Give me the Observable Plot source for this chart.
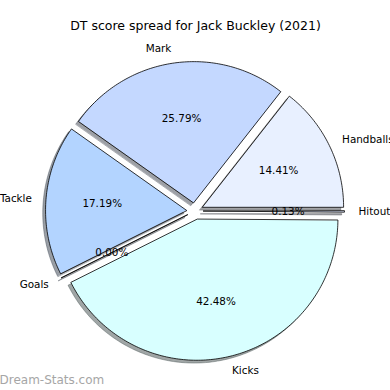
<!DOCTYPE html>
<html>
<head>
<meta charset="utf-8">
<script src="https://cdn.jsdelivr.net/npm/d3@7"></script>
<script src="https://cdn.jsdelivr.net/npm/@observablehq/plot@0.6"></script>
<style>
  html, body { margin: 0; padding: 0; background: white; }
</style>
</head>
<body>
<div id="chart"></div>
<script>
// ---- data ----
const title = "DT score spread for Jack Buckley (2021)";
const watermark = "Dream-Stats.com";
const labels = ["Handballs", "Mark", "Tackle", "Goals", "Kicks", "Hitout"];
const values = [14.41, 25.79, 17.19, 0.00, 42.48, 0.13];
const colors = ["#e8f0ff", "#c4d8ff", "#b3d4ff", "#c8e4ff", "#d8ffff", "#e0e8ff"];

// ---- layout constants ----
const W = 390, H = 390;
const cx = 194.5, cy = 210.5, R = 141;   // pie centre and radius in pixels
const explode = 0.06, labelDistance = 1.1, pctDistance = 0.6, shadowOffset = 0.02;

const total = d3.sum(values);
let cum = 0;
const wedges = labels.map((label, i) => {
  const a0 = cum / total * 360;
  cum += values[i];
  const a1 = cum / total * 360;
  const mid = (a0 + a1) / 2 * Math.PI / 180;
  return {label, value: values[i], color: colors[i], a0, a1, mid,
          ox: explode * Math.cos(mid), oy: explode * Math.sin(mid)};
});

const points = [];
for (const w of wedges) {
  points.push({label: w.label, color: w.color, x: w.ox, y: w.oy});
  const n = Math.max(1, Math.ceil(w.a1 - w.a0));
  for (let k = 0; k <= n; k++) {
    const t = (w.a0 + (w.a1 - w.a0) * k / n) * Math.PI / 180;
    points.push({label: w.label, color: w.color, x: w.ox + Math.cos(t), y: w.oy + Math.sin(t)});
  }
}
const shade = c => { const r = d3.rgb(c); return d3.rgb(r.r * 0.3, r.g * 0.3, r.b * 0.3).formatHex(); };

const outer = wedges.map(w => ({
  text: w.label,
  x: w.ox + labelDistance * Math.cos(w.mid),
  y: w.oy + labelDistance * Math.sin(w.mid),
  anchor: Math.cos(w.mid) > 0 ? "start" : "end"
}));
const inner = wedges.map(w => ({
  text: (w.value / total * 100).toFixed(2) + "%",
  x: w.ox + pctDistance * Math.cos(w.mid),
  y: w.oy + pctDistance * Math.sin(w.mid)
}));

const font = "DejaVu Sans, sans-serif";
const fs = 10.4;
const chart = Plot.plot({
  width: W, height: H,
  margin: 0,
  style: {fontFamily: font, background: "white"},
  x: {domain: [-cx / R, (W - cx) / R], axis: null},
  y: {domain: [(cy - H) / R, cy / R], axis: null},
  color: {type: "identity"},
  marks: [
    // shadows
    Plot.line(points, {x: "x", y: "y", z: "label", curve: "linear-closed",
      fill: d => shade(d.color), stroke: d => shade(d.color), strokeWidth: 0.8,
      fillOpacity: 0.5, strokeOpacity: 0.5,
      dx: -shadowOffset * R, dy: shadowOffset * R}),
    // wedges
    Plot.line(points, {x: "x", y: "y", z: "label", curve: "linear-closed",
      fill: "color", stroke: "black", strokeWidth: 0.8, strokeLinejoin: "miter"}),
    Plot.text(outer.filter(d => d.anchor === "start"), {x: "x", y: "y", text: "text",
      textAnchor: "start", fontSize: fs, fill: "black"}),
    Plot.text(outer.filter(d => d.anchor === "end"), {x: "x", y: "y", text: "text",
      textAnchor: "end", fontSize: fs, fill: "black"}),
    Plot.text(inner, {x: "x", y: "y", text: "text", textAnchor: "middle", fontSize: fs, fill: "black"}),
    Plot.text([title], {frameAnchor: "top", text: d => d, dy: 25, lineAnchor: "middle",
      fontSize: 12.5, fill: "black"}),
    Plot.text([watermark], {frameAnchor: "bottom-left", text: d => d, dx: -1, dy: -10,
      lineAnchor: "middle", textAnchor: "start", fontSize: 12, fill: "#a6a6a6"})
  ]
});
document.getElementById("chart").appendChild(chart);
</script>
</body>
</html>
